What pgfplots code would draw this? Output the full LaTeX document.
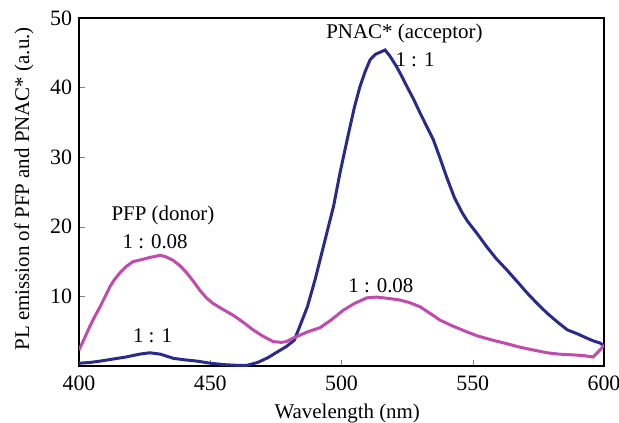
\documentclass[border=0pt]{standalone}
\usepackage{fontspec}
\setmainfont{Liberation Serif}
\usepackage{pgfplots}
\pgfplotsset{compat=1.18}
\definecolor{pnacBlue}{RGB}{42,42,138}
\definecolor{pfpPink}{RGB}{192,74,174}
\newcommand{\lblfont}{\fontsize{10.5}{12}\selectfont}
\begin{document}
\begin{tikzpicture}
\begin{axis}[
    name=ax,
    scale only axis,
    width=262.5bp, height=174bp,
    xmin=400, xmax=600, ymin=0, ymax=50,
    xtick={400,450,...,600},
    ytick={10,20,...,50},
    tick pos=left,
    tick align=inside,
    major tick length=3bp,
    /pgf/number format/assume math mode=true,
    ticklabel style={font=\fontsize{11}{12}\selectfont},
    xticklabel style={yshift=-1.5bp},
    xlabel={Wavelength (nm)},
    ylabel={PL emission of PFP and PNAC* (a.u.)},
    label style={font=\lblfont},
    xlabel style={at={(rel axis cs:0.511,0)}, anchor=center, yshift=-23.5bp},
    ylabel style={at={(rel axis cs:-0.105,0.509)}, anchor=center},
    axis line style={line width=0.6pt},
]
% PNAC* (acceptor), 1:1
\addplot[pnacBlue, line width=1.5pt] coordinates {
    (400,0.4) (404,0.5) (408,0.7) (413,1.0) (418,1.3) (423,1.7) (427,1.9)
    (431,1.7) (436,1.1) (440,0.9) (445,0.7) (450,0.4) (455,0.2) (460,0.1)
    (464,0.1) (468,0.5) (472,1.2) (475,1.9) (479,2.8) (482,3.7) (484,5.6)
    (487,8.5) (490,12.5) (492,15.5) (495,20.0) (497,23.0) (499.4,27.7)
    (501,30.5) (503.2,34.3) (505,37.3) (507,40.1) (509,42.3) (510.9,44.0)
    (513,44.8) (516.6,45.4) (518.5,44.5) (521,43.0) (523,41.6) (525,40.1)
    (527.5,38.3) (530,36.3) (532.5,34.4) (535,32.5) (537.5,29.9) (540,27.2)
    (543,24.2) (546,22.0) (548,20.8) (551.5,19.1) (555.4,17.1) (559,15.4)
    (563,13.8) (567,12.1) (570.7,10.5) (574.5,9.0) (578.3,7.6) (582,6.4)
    (586,5.2) (590,4.6) (593.5,4.0) (596,3.6) (598.5,3.3) (600,2.9)
};
% PFP (donor), 1:0.08
\addplot[pfpPink, line width=1.5pt] coordinates {
    (400,2.3) (402,3.9) (404,5.6) (406,7.1) (408,8.5) (410,10.0) (411.8,11.4)
    (413.5,12.4) (415.6,13.4) (418,14.3) (420.6,15.0) (424,15.3) (427,15.6)
    (430.9,15.9) (433,15.7) (435.8,15.2) (438.5,14.4) (441,13.4) (443.5,12.2)
    (446,10.9) (448.5,9.8) (451,9.0) (455,8.1) (458.7,7.3) (462.5,6.3)
    (466.3,5.2) (470,4.3) (474,3.5) (477,3.4) (479,3.5) (481.5,4.0) (484,4.4)
    (487,4.9) (491.8,5.5) (496,6.6) (500.6,8.0) (505,9.0) (509.7,9.8)
    (513.5,9.9) (518,9.7) (522,9.5) (526,9.1) (530,8.5) (534,7.5) (537.5,6.6)
    (542,5.8) (547.8,4.9) (552,4.3) (557.7,3.7) (563,3.2) (568,2.7) (573,2.3)
    (578.3,1.9) (583,1.7) (588.2,1.6) (592,1.5) (595.8,1.3) (598.5,2.3)
    (600,3.0)
};
\node[font=\lblfont] at (axis cs:524,47.8) {PNAC* (acceptor)};
\node[font=\lblfont] at (axis cs:528,44.0) {1 : 1};
\node[font=\lblfont] at (axis cs:432,21.7) {PFP (donor)};
\node[font=\lblfont] at (axis cs:429,17.8) {1 : 0.08};
\node[font=\lblfont] at (axis cs:428,4.3) {1 : 1};
\node[font=\lblfont] at (axis cs:515,11.6) {1 : 0.08};
\end{axis}
\pgfresetboundingbox
\path[use as bounding box] ([shift={(-39.5bp,-28.5bp)}]ax.south west) rectangle ++(309.5bp,211.5bp);
\end{tikzpicture}
\end{document}
